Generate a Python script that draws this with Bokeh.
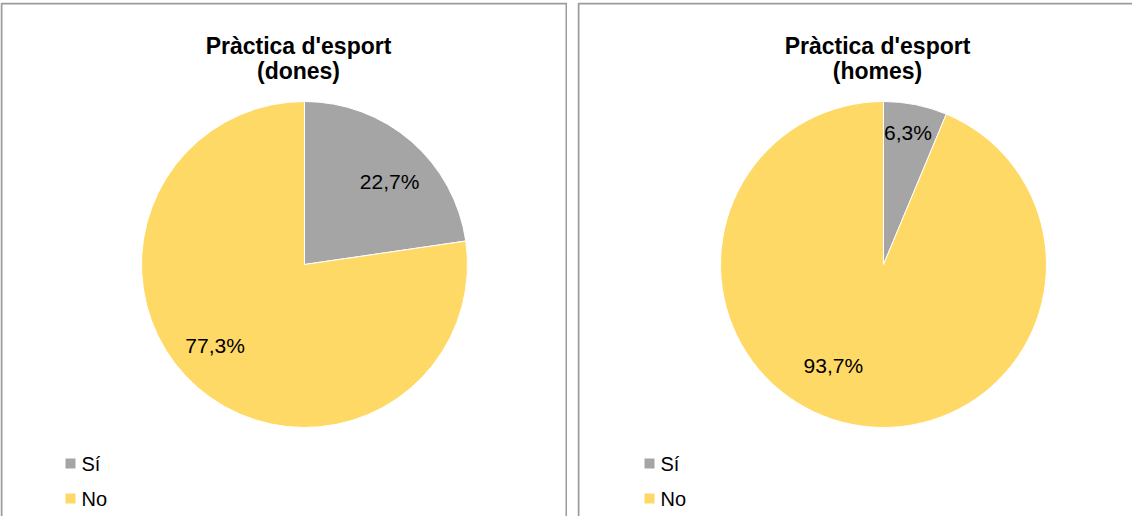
import math
from bokeh.plotting import figure
from bokeh.layouts import row
from bokeh.models import Range1d, ColumnDataSource
from bokeh.core.properties import value
from bokeh.embed import file_html
from bokeh.resources import INLINE

# ---------------- data ----------------
categories = ["Sí", "No"]
dones = [22.7, 77.3]
homes = [6.3, 93.7]
title_main = "Pràctica d'esport"
subtitles = ["(dones)", "(homes)"]

# ---------------- style / layout ----------------
colors = ["#A5A5A5", "#FFD966"]
FONT = "Liberation Sans"
BORDER = "#9C9C9C"
H = 516
TOP_GAP = 2
RADIUS = 163


def fmt(v):
    return ("%.1f" % v).replace(".", ",") + "%"


def make_panel(values, subtitle, width, left_gap, cx, label_adjust, right_open):
    fw = width - left_gap
    fh = H - TOP_GAP
    top = 8 + TOP_GAP  # page y of the frame top

    def sy(y):  # page y -> data y
        return fh - (y - top)

    p = figure(width=width, height=H,
               x_range=Range1d(0, fw), y_range=Range1d(0, fh),
               output_backend="svg", toolbar_location=None,
               x_axis_location=None, y_axis_location=None,
               min_border_left=left_gap, min_border_right=0,
               min_border_top=TOP_GAP, min_border_bottom=0,
               outline_line_color=None, background_fill_color="white",
               border_fill_color="white")
    p.grid.grid_line_color = None
    cy = sy(272)  # pie centre

    # panel frame (open at bottom, and right for the second panel)
    right_edge = fw + 60 if right_open else fw - 1
    p.quad(left=1, right=right_edge, top=fh - 1, bottom=-60,
           fill_color=None, line_color=BORDER, line_width=2)

    # pie
    cum = 0.0
    starts, ends, lx, ly, texts = [], [], [], [], []
    for v, (dth, r) in zip(values, label_adjust):
        a0 = math.pi / 2 - 2 * math.pi * cum / 100.0
        a1 = math.pi / 2 - 2 * math.pi * (cum + v) / 100.0
        starts.append(a0)
        ends.append(a1)
        mid = 360.0 * (cum + v / 2.0) / 100.0 + dth
        lx.append(cx + r * math.sin(math.radians(mid)))
        ly.append(cy + r * math.cos(math.radians(mid)))
        texts.append(fmt(v))
        cum += v
    src = ColumnDataSource(dict(start=starts, end=ends, color=colors,
                                cat=categories))
    p.wedge(x=cx, y=cy, radius=RADIUS, start_angle="start", end_angle="end",
            direction="clock", fill_color="color", line_color="white",
            line_width=1, source=src)
    p.text(x=lx, y=ly, text=texts, text_font=value(FONT),
           text_font_size="21px", text_align="center",
           text_baseline="middle", text_color="#000000")

    # title
    tx = cx - 6
    p.text(x=[tx, tx], y=[sy(53), sy(78)],
           text=[title_main, subtitle], text_font=value(FONT),
           text_font_size="23px", text_font_style="bold",
           text_align="center", text_baseline="alphabetic",
           text_color="#000000")

    # legend
    lgx = cx - 234
    lgy = [sy(471), sy(506)]
    p.rect(x=[lgx] * 2, y=lgy, width=10, height=10, fill_color=colors,
           line_color=None)
    p.text(x=[lgx + 11] * 2, y=lgy, text=categories, text_font=value(FONT),
           text_font_size="20px", text_align="left",
           text_baseline="middle", text_color="#000000")
    return p


p1 = make_panel(dones, subtitles[0], 567, 0, 304,
                [(5.0, 118.5), (6.8, 121.0)], right_open=False)
p2 = make_panel(homes, subtitles[1], 565, 10, 306,
                [(-0.8, 134.0), (15.0, 113.0)], right_open=True)

layout = row(p1, p2)
open("out.html", "w").write(file_html(layout, INLINE))
